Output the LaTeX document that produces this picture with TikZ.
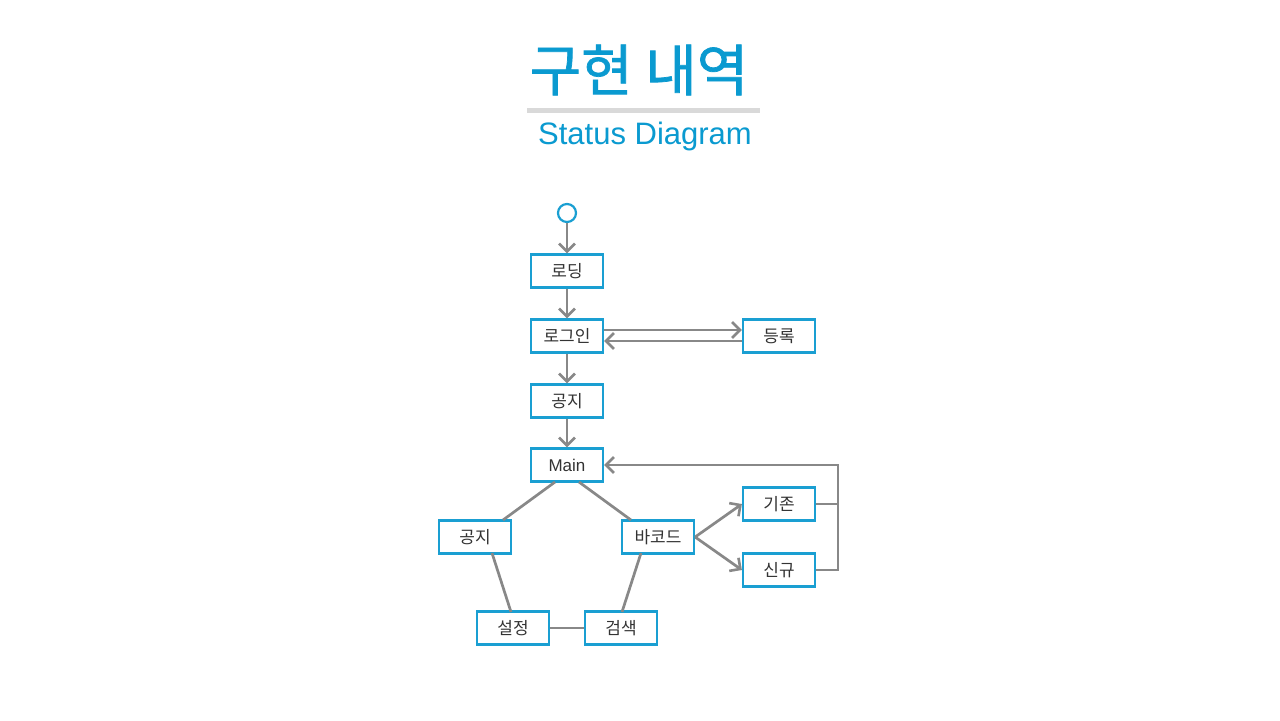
\documentclass[tikz,border=0pt]{standalone}
\usepackage{fontspec}
\setmainfont{Noto Sans CJK KR}
\newfontfamily\titlefont[FakeBold=1.3]{Noto Sans CJK KR}
\newfontfamily\latinsans{Liberation Sans}
\usetikzlibrary{arrows.meta}
\definecolor{titleblue}{HTML}{0A9AD0}
\definecolor{boxblue}{HTML}{1A9FD2}
\definecolor{linegray}{HTML}{888888}
\definecolor{rulegray}{HTML}{D9D9D9}
\definecolor{txt}{HTML}{333333}
\tikzset{
  sbox/.style={draw=boxblue, line width=1.1pt, fill=white, minimum width=36pt, minimum height=16.5pt, inner sep=0pt, text=txt, font=\fontsize{8.5}{10}\selectfont},
  conn/.style={draw=linegray, line width=1.35pt},
  arr/.style={conn, -{Straight Barb[length=4pt,width=8pt,line width=1.3pt]}},
}
\begin{document}
\begin{tikzpicture}[x=0.5pt,y=-0.5pt]
\fill[white] (0,0) rectangle (1280,720);
\useasboundingbox (0,0) rectangle (1280,720);
% title
\node[text=titleblue, font=\titlefont\fontsize{28}{32}\selectfont] (title) at (639,70) {구현 내역};
\draw[rulegray, line width=2.5pt] (527,110) -- (760,110);
\node[text=titleblue, font=\latinsans\fontsize{15.5}{18}\selectfont] (sub) at (645,136) {Status Diagram};
% start
\node[circle, draw=boxblue, line width=1.1pt, minimum size=9pt, inner sep=0pt] (start) at (567,213) {};
\node[sbox] (load) at (567,271) {로딩};
\node[sbox] (login) at (567,336) {로그인};
\node[sbox] (reg) at (779,336) {등록};
\node[sbox] (notice) at (567,401) {공지};
\node[sbox] (main) at (567,465) {\latinsans Main};
\node[sbox] (notice2) at (475,537) {공지};
\node[sbox] (barcode) at (658,537) {바코드};
\node[sbox] (exist) at (779,504) {기존};
\node[sbox] (new) at (779,570) {신규};
\node[sbox] (setting) at (513,628) {설정};
\node[sbox] (search) at (621,628) {검색};
\coordinate (rj) at (838,465);
% connectors
\draw[arr] (start) -- (load);
\draw[arr] (load) -- (login);
\draw[arr] (login.east |- 0,330) -- (reg.west |- 0,330);
\draw[arr] (reg.west |- 0,341) -- (login.east |- 0,341);
\draw[arr] (login) -- (notice);
\draw[arr] (notice) -- (main);
\draw[conn] (555,482) -- (503,520);
\draw[conn] (579,482) -- (631,520);
\draw[conn] (492,553) -- (511,612);
\draw[conn] (641,553) -- (622,612);
\draw[conn] (setting) -- (search);
\draw[arr] (barcode.east) -- (exist.west);
\draw[arr] (barcode.east) -- (new.west);
\draw[conn] (exist.east) -- (exist.east -| rj);
\draw[arr] (new.east) -- (new.east -| rj) -- (rj) -- (main.east);
\end{tikzpicture}
\end{document}
